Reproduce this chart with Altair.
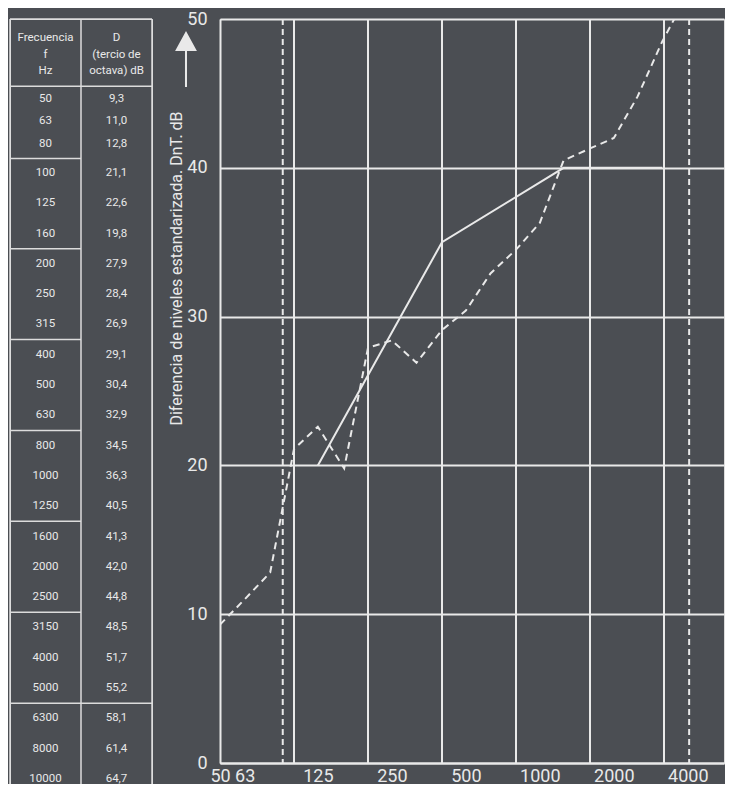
import altair as alt
import pandas as pd

# ---------------- data ----------------
freqs = [50, 63, 80, 100, 125, 160, 200, 250, 315, 400, 500, 630,
         800, 1000, 1250, 1600, 2000, 2500, 3150, 4000, 5000, 6300, 8000, 10000]
d_vals = [9.3, 11.0, 12.8, 21.1, 22.6, 19.8, 27.9, 28.4, 26.9, 29.1, 30.4, 32.9,
          34.5, 36.3, 40.5, 41.3, 42.0, 44.8, 48.5, 51.7, 55.2, 58.1, 61.4, 64.7]
ref_freqs = [125, 400, 1250, 3150]
ref_vals = [20, 35, 40, 40]
band_lines = [100, 200, 400, 800, 1600, 3200]
limit_lines = [90, 4050]
x_tick_labels = [50, 63, 125, 250, 500, 1000, 2000, 4000]
y_ticks = [0, 10, 20, 30, 40, 50]
header_freq = ["Frecuencia", "f", "Hz"]
header_d = ["D", "(tercio de", "octava) dB"]
group_size = 3
y_title = "Diferencia de niveles estandarizada. DnT. dB"

# ---------------- style ----------------
FONT = "Roboto"
INK = "#e9e9e9"
BG = "#4b4e53"
W, H = 504, 744
PX_PER_OCT = 74
x_max = 50 * 2 ** (W / PX_PER_OCT)

xs = alt.Scale(type="log", base=2, domain=[50, x_max], nice=False)
ys = alt.Scale(domain=[0, 50], nice=False, zero=True)

x_axis = alt.Axis(values=x_tick_labels, format="d", labelFontSize=18, labelColor=INK,
                  labelFont=FONT, ticks=False, grid=False, domain=True, domainColor=INK,
                  domainWidth=2, labelPadding=4, title=None, labelFlush=False,
                  labelOverlap=False)
y_axis = alt.Axis(values=y_ticks, labelFontSize=18, labelColor=INK, labelFont=FONT,
                  ticks=False, grid=True, gridColor=INK, gridWidth=2, gridOpacity=1,
                  domain=True, domainColor=INK, domainWidth=2, labelPadding=13,
                  labelFlush=False, title=y_title, titleFont=FONT, titleFontSize=16,
                  titleFontWeight="normal", titleColor=INK, titleX=-44, titleY=249,
                  titleAngle=270, titleAlign="center", titleBaseline="middle")

X = alt.X("f:Q", scale=xs, axis=x_axis)
Y = alt.Y("v:Q", scale=ys, axis=y_axis)

curve_df = pd.DataFrame({"f": freqs, "v": d_vals})
ref_df = pd.DataFrame({"f": ref_freqs, "v": ref_vals})
band_df = pd.DataFrame({"f": band_lines})
limit_df = pd.DataFrame({"f": limit_lines})

bands = alt.Chart(band_df).mark_rule(color=INK, strokeWidth=2).encode(x=X)
limits = alt.Chart(limit_df).mark_rule(color=INK, strokeWidth=2, strokeDash=[6, 4]).encode(x=X)
curve = alt.Chart(curve_df).mark_line(color=INK, strokeWidth=2, strokeDash=[7, 5],
                                      clip=True).encode(x=X, y=Y)
ref = alt.Chart(ref_df).mark_line(color=INK, strokeWidth=2, clip=True).encode(x=X, y=Y)

ARROW = ("M0,-1 L0.39,-0.29 L0.036,-0.29 L0.036,1 L-0.036,1 "
         "L-0.036,-0.29 L-0.39,-0.29 Z")
arrow = alt.Chart(pd.DataFrame({"a": [0]})).mark_point(
    shape=ARROW, filled=True, color=INK, opacity=1, size=3136, strokeWidth=0
).encode(x=alt.value(-34), y=alt.value(40))

plot = alt.layer(bands, limits, ref, curve, arrow).properties(width=W, height=H)

# ---------------- table ----------------
ROW_PX = 30.3
U_TOP = -5.08
TH = 765
U_BOT = U_TOP + TH / ROW_PX


def slot(i):
    # first group of the table is drawn more compactly
    if i < group_size:
        return -2.44 + 0.74 * i
    return i - group_size


cells = []
for i, (f, v) in enumerate(zip(freqs, d_vals)):
    cells.append({"x": 0.5, "u": slot(i), "t": str(f)})
    cells.append({"x": 1.5, "u": slot(i), "t": f"{v:.1f}".replace(".", ",")})
cells_df = pd.DataFrame(cells)

head_df = pd.DataFrame({"x": [0.5, 1.5], "u": [-4.44, -4.44],
                        "t": ["\n".join(header_freq), "\n".join(header_d)]})

n_groups = len(freqs) // group_size
hlines = [{"u": U_TOP, "x0": 0, "x1": 2}, {"u": -2.86, "x0": 0, "x1": 2}]
for g in range(1, n_groups):
    u = (slot(g * group_size - 1) + slot(g * group_size)) / 2
    hlines.append({"u": u, "x0": 0, "x1": 2 if g == n_groups - 1 else 1})
hl_df = pd.DataFrame(hlines)
vl_df = pd.DataFrame({"x": [0, 1, 2], "u0": [U_TOP] * 3, "u1": [U_BOT] * 3})

tx = alt.Scale(domain=[0, 2], nice=False, zero=False)
ty = alt.Scale(domain=[U_TOP, U_BOT], reverse=True, nice=False, zero=False)

t_text = alt.Chart(cells_df).mark_text(font=FONT, fontSize=11.5, color=INK).encode(
    x=alt.X("x:Q", scale=tx, axis=None), y=alt.Y("u:Q", scale=ty, axis=None), text="t:N")
t_head = alt.Chart(head_df).mark_text(font=FONT, fontSize=11.5, color=INK, lineBreak="\n",
                                      lineHeight=16.5, baseline="middle").encode(
    x=alt.X("x:Q", scale=tx, axis=None), y=alt.Y("u:Q", scale=ty, axis=None), text="t:N")
t_h = alt.Chart(hl_df).mark_rule(color="#dcdcdc", strokeWidth=1.5).encode(
    x=alt.X("x0:Q", scale=tx, axis=None), x2="x1:Q", y=alt.Y("u:Q", scale=ty, axis=None))
t_v = alt.Chart(vl_df).mark_rule(color="#dcdcdc", strokeWidth=1.5).encode(
    x=alt.X("x:Q", scale=tx, axis=None), y=alt.Y("u0:Q", scale=ty, axis=None), y2="u1:Q")

table = alt.layer(t_h, t_v, t_head, t_text).properties(width=142, height=TH)

chart = alt.hconcat(table, plot, spacing=13).properties(
    background=BG, padding={"left": 0, "top": 1, "right": 0, "bottom": -2}
).configure_view(stroke=None).configure(font=FONT)

chart.save("out.html", embed_options={"renderer": "svg", "actions": False})
